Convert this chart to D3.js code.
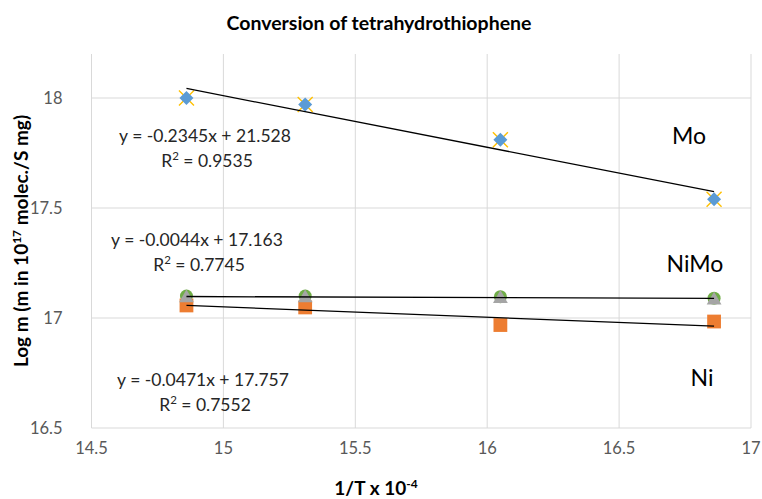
<!DOCTYPE html>
<html>
<head>
<meta charset="utf-8">
<script src="https://cdn.jsdelivr.net/npm/d3@7"></script>
<style>
  body { margin: 0; background: #fff; }
  text { font-family: Lato, "Open Sans", sans-serif; }
</style>
</head>
<body>
<svg id="graph" width="762" height="499"></svg>
<script>
(function () {
    'use strict';

    // 1/T x 10^-4 (673, 653, 623, 593 K)
    var invT = [14.86, 15.31, 16.05, 16.86];
    var moValues = [18.00, 17.97, 17.81, 17.54];
    var niMoValues = [17.10, 17.10, 17.097, 17.09];
    var niValues = [17.057, 17.048, 16.968, 16.984];

    var xTicks = [14.5, 15, 15.5, 16, 16.5, 17];
    var yTicks = [16.5, 17, 17.5, 18];

    // trendline coefficients and their labels
    var trendNames = ["Mo", "NiMo", "Ni"];
    var trendSlopes = [-0.2345, -0.0044, -0.0471];
    var trendIntercepts = [21.528, 17.163, 17.757];
    var trendEquations = ["y = -0.2345x + 21.528", "y = -0.0044x + 17.163", "y = -0.0471x + 17.757"];
    var trendR2 = ["0.9535", "0.7745", "0.7552"];

    var margin = { top: 54, right: 11, bottom: 71, left: 91.5 },
        width = 762 - margin.left - margin.right,
        height = 499 - margin.top - margin.bottom;

    var svg = d3.select("#graph");
    var graph = svg.append("g")
        .attr("transform", "translate(" + margin.left + "," + margin.top + ")");

    var x = d3.scaleLinear().domain([14.5, 17]).range([0, width]),
        y = d3.scaleLinear().domain([16.5, 18.2]).range([height, 0]);

    // grid lines
    graph.append("g").selectAll("line")
        .data(xTicks)
        .enter().append("line")
        .attr("x1", function (d) { return x(d); })
        .attr("x2", function (d) { return x(d); })
        .attr("y1", 0).attr("y2", height)
        .attr("stroke", "#d9d9d9").attr("stroke-width", 1);

    graph.append("g").selectAll("line")
        .data(yTicks)
        .enter().append("line")
        .attr("x1", 0).attr("x2", width)
        .attr("y1", function (d) { return y(d); })
        .attr("y2", function (d) { return y(d); })
        .attr("stroke", "#d9d9d9").attr("stroke-width", 1);

    // tick labels
    graph.append("g").selectAll("text")
        .data(xTicks)
        .enter().append("text")
        .attr("x", function (d) { return x(d); })
        .attr("y", height + 26)
        .attr("text-anchor", "middle")
        .attr("fill", "#595959")
        .style("font-size", "16.5px")
        .text(function (d) { return d; });

    graph.append("g").selectAll("text")
        .data(yTicks)
        .enter().append("text")
        .attr("x", -29)
        .attr("y", function (d) { return y(d); })
        .attr("dy", "0.35em")
        .attr("text-anchor", "end")
        .attr("fill", "#595959")
        .style("font-size", "16.5px")
        .text(function (d) { return d; });

    function trendlines(g) {
        g.selectAll("line")
            .data(trendSlopes)
            .enter().append("line")
            .attr("x1", x(d3.min(invT)))
            .attr("x2", x(d3.max(invT)))
            .attr("y1", function (d, i) { return y(d * d3.min(invT) + trendIntercepts[i]); })
            .attr("y2", function (d, i) { return y(d * d3.max(invT) + trendIntercepts[i]); })
            .attr("stroke", "#000").attr("stroke-width", 1.3);
    }

    function pts(vals) {
        return invT.map(function (t, i) { return { x: t, y: vals[i] }; });
    }

    // Mo: gold x behind blue diamond
    var xs = 7.5;
    graph.append("g").selectAll("path")
        .data(pts(moValues))
        .enter().append("path")
        .attr("transform", function (d) { return "translate(" + x(d.x) + "," + y(d.y) + ")"; })
        .attr("d", "M" + (-xs) + "," + (-xs) + "L" + xs + "," + xs + "M" + (-xs) + "," + xs + "L" + xs + "," + (-xs))
        .attr("stroke", "#ffc000").attr("stroke-width", 1.4).attr("fill", "none");

    graph.append("g").selectAll("path")
        .data(pts(moValues))
        .enter().append("path")
        .attr("transform", function (d) { return "translate(" + x(d.x) + "," + y(d.y) + ") rotate(45)"; })
        .attr("d", d3.symbol().type(d3.symbolSquare).size(98))
        .attr("fill", "#5b9bd5");

    // NiMo: green circle behind
    graph.append("g").selectAll("circle")
        .data(pts(niMoValues))
        .enter().append("circle")
        .attr("cx", function (d) { return x(d.x); })
        .attr("cy", function (d) { return y(d.y); })
        .attr("r", 6.5)
        .attr("fill", "#70ad47");

    // Ni: orange squares
    graph.append("g").selectAll("path")
        .data(pts(niValues))
        .enter().append("path")
        .attr("transform", function (d) { return "translate(" + x(d.x) + "," + y(d.y) + ")"; })
        .attr("d", d3.symbol().type(d3.symbolSquare).size(190))
        .attr("fill", "#ed7d31");

    // NiMo: grey triangles
    graph.append("g").selectAll("path")
        .data(pts(niMoValues))
        .enter().append("path")
        .attr("transform", function (d) { return "translate(" + x(d.x) + "," + (y(d.y) + 2) + ")"; })
        .attr("d", d3.symbol().type(d3.symbolTriangle).size(95))
        .attr("fill", "#a5a5a5");

    // trendlines on top of markers
    trendlines(graph.append("g"));

    // equation labels
    var eqPos = [[205, 142], [197, 246], [203, 386]];
    var eq = svg.append("g").selectAll("g")
        .data(trendEquations)
        .enter().append("g");

    eq.append("text")
        .attr("x", function (d, i) { return eqPos[i][0]; })
        .attr("y", function (d, i) { return eqPos[i][1]; })
        .attr("text-anchor", "middle")
        .attr("fill", "#262626")
        .style("font-size", "17.5px")
        .text(function (d) { return d; });

    var r2 = eq.append("text")
        .attr("x", function (d, i) { return eqPos[i][0] + 2; })
        .attr("y", function (d, i) { return eqPos[i][1] + 25; })
        .attr("text-anchor", "middle")
        .attr("fill", "#262626")
        .style("font-size", "17.5px");
    r2.append("tspan").text("R");
    r2.append("tspan").attr("dy", -7).style("font-size", "11.5px").text("2");
    r2.append("tspan").attr("dy", 7).text(function (d, i) { return " = " + trendR2[i]; });

    // series names
    var namePos = [[689, 144], [695, 272], [702, 386]];
    svg.append("g").selectAll("text")
        .data(trendNames)
        .enter().append("text")
        .attr("x", function (d, i) { return namePos[i][0]; })
        .attr("y", function (d, i) { return namePos[i][1]; })
        .attr("text-anchor", "middle")
        .attr("fill", "#000")
        .style("font-size", "23px")
        .text(function (d) { return d; });

    // title
    svg.append("text")
        .attr("x", 379)
        .attr("y", 30)
        .attr("text-anchor", "middle")
        .attr("fill", "#000")
        .style("font-size", "19.5px")
        .style("font-weight", "bold")
        .text("Conversion of tetrahydrothiophene");

    // x axis title
    var xt = svg.append("text")
        .attr("x", 376)
        .attr("y", 495)
        .attr("text-anchor", "middle")
        .attr("fill", "#000")
        .style("font-size", "19px")
        .style("font-weight", "bold");
    xt.append("tspan").text("1/T x 10");
    xt.append("tspan").attr("dy", -7).style("font-size", "12px").text("-4");

    // y axis title
    var yt = svg.append("text")
        .attr("transform", "translate(28," + (margin.top + height / 2) + ") rotate(-90)")
        .attr("text-anchor", "middle")
        .attr("fill", "#000")
        .style("font-size", "19px")
        .style("font-weight", "bold");
    yt.append("tspan").text("Log m (m in 10");
    yt.append("tspan").attr("dy", -7).style("font-size", "12px").text("17");
    yt.append("tspan").attr("dy", 7).text(" molec./S mg)");
})();
</script>
</body>
</html>
